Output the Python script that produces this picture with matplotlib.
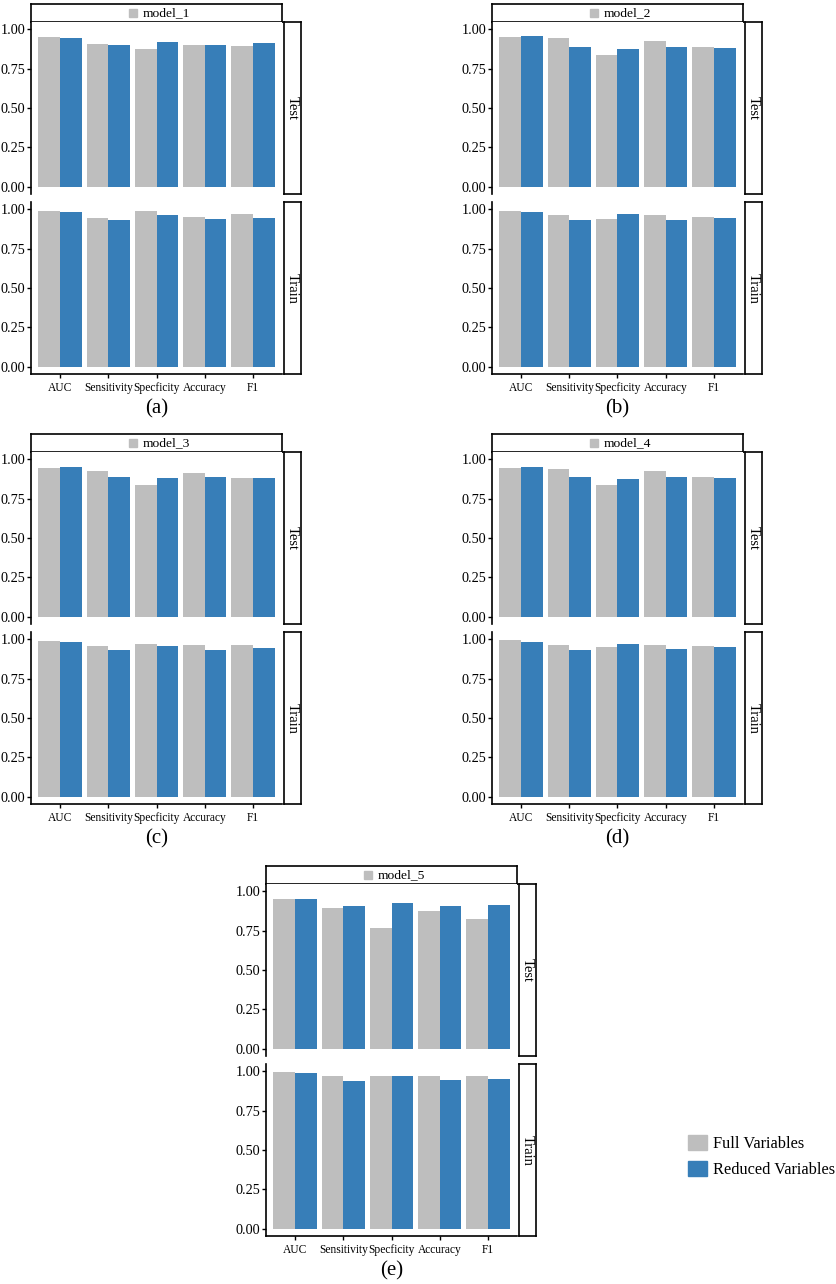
import matplotlib
matplotlib.use("Agg")
import matplotlib.pyplot as plt
from matplotlib.patches import Patch

plt.rcParams['font.family'] = ['Liberation Serif', 'DejaVu Serif']

metrics = ["AUC", "Sensitivity", "Specficity", "Accuracy", "F1"]
models = ["model_1", "model_2", "model_3", "model_4", "model_5"]
panel_tags = ["(a)", "(b)", "(c)", "(d)", "(e)"]

# Full Variables / Reduced Variables, per model, per split
test_full = [
    [0.952, 0.908, 0.876, 0.899, 0.895],
    [0.950, 0.943, 0.838, 0.926, 0.887],
    [0.945, 0.925, 0.839, 0.910, 0.881],
    [0.943, 0.939, 0.836, 0.925, 0.887],
    [0.951, 0.894, 0.763, 0.871, 0.822],
]
test_reduced = [
    [0.943, 0.899, 0.920, 0.901, 0.910],
    [0.954, 0.887, 0.876, 0.884, 0.882],
    [0.952, 0.889, 0.878, 0.885, 0.883],
    [0.952, 0.887, 0.874, 0.885, 0.881],
    [0.949, 0.903, 0.926, 0.905, 0.915],
]
train_full = [
    [0.987, 0.943, 0.990, 0.950, 0.966],
    [0.989, 0.962, 0.935, 0.960, 0.947],
    [0.990, 0.956, 0.966, 0.962, 0.964],
    [0.992, 0.964, 0.948, 0.960, 0.956],
    [0.992, 0.966, 0.966, 0.966, 0.966],
]
train_reduced = [
    [0.983, 0.931, 0.962, 0.935, 0.943],
    [0.983, 0.929, 0.969, 0.933, 0.945],
    [0.981, 0.929, 0.956, 0.931, 0.941],
    [0.981, 0.929, 0.969, 0.935, 0.948],
    [0.989, 0.937, 0.966, 0.941, 0.949],
]

GRAY = "#BEBEBE"
BLUE = "#377EB8"

W, H = 837, 1284
fig = plt.figure(figsize=(W / 100, H / 100), dpi=100)


def px_axes(x, y, w, h):
    # pixel box (top-left origin) -> figure axes
    return fig.add_axes([x / W, 1 - (y + h) / H, w / W, h / H])


# top-left of each panel: (axes left, strip top)
origins = [(31, 4), (492, 4), (31, 434), (492, 434), (266, 866)]
AX_W = 251
STRIP_H = 18
PANEL_H = 172
GAP = 8

pos = list(range(1, len(metrics) + 1))
bw = 0.45

for k, (x0, y0) in enumerate(origins):
    # facet strip on top
    st = px_axes(x0, y0, AX_W, STRIP_H)
    st.set_xticks([])
    st.set_yticks([])
    for s in st.spines.values():
        s.set_linewidth(1.2)
    st.plot([0.406], [0.5], marker="s", color=GRAY, markersize=5.5, transform=st.transAxes, clip_on=False)
    st.text(0.446, 0.47, models[k], transform=st.transAxes, ha="left", va="center", fontsize=9.7)

    rows = [("Test", test_full[k], test_reduced[k]), ("Train", train_full[k], train_reduced[k])]
    for r, (split, full, red) in enumerate(rows):
        top = y0 + STRIP_H + r * (PANEL_H + GAP)
        ax = px_axes(x0, top, AX_W, PANEL_H)
        ax.bar([p - bw / 2 for p in pos], full, width=bw, color=GRAY, label="Full Variables")
        ax.bar([p + bw / 2 for p in pos], red, width=bw, color=BLUE, label="Reduced Variables")
        ax.set_xlim(0.4, 5.6)
        ax.set_ylim(-0.045, 1.045)
        ax.set_yticks([0, 0.25, 0.5, 0.75, 1.0])
        ax.set_yticklabels(["0.00", "0.25", "0.50", "0.75", "1.00"])
        ax.spines["top"].set_visible(False)
        ax.spines["right"].set_visible(False)
        ax.spines["left"].set_linewidth(1.2)
        ax.tick_params(axis="y", length=3, width=1, pad=1.2, labelsize=10.3)
        if r == 0:
            ax.spines["bottom"].set_visible(False)
            ax.set_xticks([])
        else:
            ax.spines["bottom"].set_linewidth(1.2)
            ax.set_xticks(pos)
            ax.set_xticklabels(metrics)
            ax.tick_params(axis="x", length=3, width=1, pad=2.5, labelsize=8.3)

        # row strip on right
        rs = px_axes(x0 + AX_W + 2, top, 17, PANEL_H)
        rs.set_xticks([])
        rs.set_yticks([])
        for s in rs.spines.values():
            s.set_linewidth(1.2)
        rs.text(0.5, 0.5, split, transform=rs.transAxes, rotation=270, ha="center", va="center", fontsize=10.5)

    bottom = y0 + STRIP_H + 2 * PANEL_H + GAP
    fig.text((x0 + AX_W / 2) / W, 1 - (bottom + 35) / H, panel_tags[k], ha="center", va="center", fontsize=15)

handles = [Patch(color=GRAY, label="Full Variables"), Patch(color=BLUE, label="Reduced Variables")]
fig.legend(handles=handles, loc="upper left", bbox_to_anchor=(688 / W, 1 - 1135 / H), frameon=False,
           fontsize=11.8, handlelength=1.15, handleheight=1.05, labelspacing=0.55, handletextpad=0.4,
           borderpad=0, borderaxespad=0)

fig.savefig("out.png", dpi=100)
